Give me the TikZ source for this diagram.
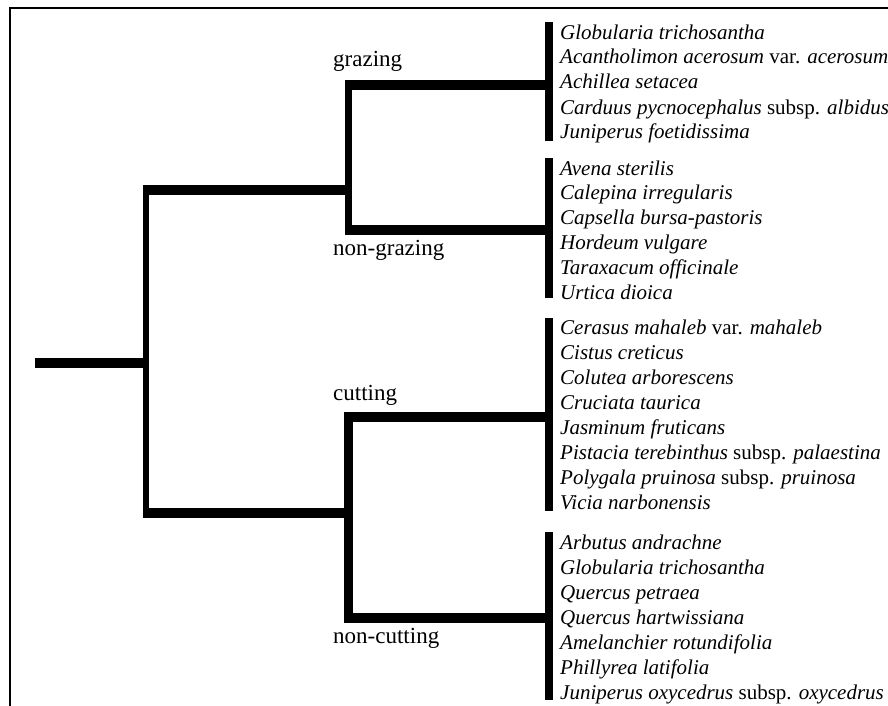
\documentclass[tikz,border=0pt]{standalone}
\usepackage{fontspec}
\setmainfont{Liberation Serif}
\begin{document}
\begin{tikzpicture}[x=1pt,y=-1pt,
  hbar/.style={line width=10pt,line cap=butt},
  vbar/.style={line width=7.5pt,line cap=butt},
  leafbar/.style={line width=8.3pt,line cap=butt},
  sp/.style={anchor=base west,inner sep=0pt,font=\fontsize{21}{24}\selectfont\itshape},
  grp/.style={anchor=base west,inner sep=0pt,font=\fontsize{23}{26}\selectfont}]
\useasboundingbox (0,0) rectangle (888,706);
\fill[white] (0,0) rectangle (888,706);
% frame (left and top)
\draw[line width=2pt] (9.5,706) -- (9.5,8) -- (888,8);
% coordinates
\coordinate (root) at (35,363);
\coordinate (mtop) at (146,185);
\coordinate (mbot) at (146,518);
\coordinate (mroot) at (146,363);
\coordinate (u1) at (143,190);
\coordinate (u2) at (348,190);
\coordinate (l1) at (143,513);
\coordinate (l2) at (348,513);
\coordinate (gtop) at (348.5,80);
\coordinate (gbot) at (348.5,235);
\coordinate (g1) at (345,85);
\coordinate (g2) at (549,85);
\coordinate (n1) at (345,230);
\coordinate (n2) at (549,230);
\coordinate (ctop) at (348,412);
\coordinate (cbot) at (348,623);
\coordinate (c1) at (344,417);
\coordinate (c2) at (549,417);
\coordinate (d1) at (344,618);
\coordinate (d2) at (549,618);
\coordinate (b1t) at (549,22);  \coordinate (b1b) at (549,141);
\coordinate (b2t) at (549,158); \coordinate (b2b) at (549,298);
\coordinate (b3t) at (549,318); \coordinate (b3b) at (549,511);
\coordinate (b4t) at (549,532); \coordinate (b4b) at (549,700);
% tree
\draw[hbar] (root) -- (mroot);
\draw[line width=6.5pt] (mtop) -- (mbot);
\draw[hbar] (u1) -- (u2);
\draw[hbar] (l1) -- (l2);
\draw[vbar] (gtop) -- (gbot);
\draw[hbar] (g1) -- (g2);
\draw[hbar] (n1) -- (n2);
\draw[line width=9pt] (ctop) -- (cbot);
\draw[hbar] (c1) -- (c2);
\draw[hbar] (d1) -- (d2);
\draw[leafbar] (b1t) -- (b1b);
\draw[leafbar] (b2t) -- (b2b);
\draw[leafbar] (b3t) -- (b3b);
\draw[leafbar] (b4t) -- (b4b);
% group labels
\node[grp] (lg) at (333,67) {grazing};
\node[grp] (lng) at (333,255) {non-grazing};
\node[grp] (lc) at (333,400) {cutting};
\node[grp] (lnc) at (333,643) {non-cutting};
% species
\node[sp] (s1) at (560,40) {Globularia trichosantha};
\node[sp] (s2) at (560,64) {Acantholimon acerosum \upshape var. \itshape acerosum};
\node[sp] (s3) at (560,89) {Achillea setacea};
\node[sp] (s4) at (560,114) {Carduus pycnocephalus \upshape subsp. \itshape albidus};
\node[sp] (s5) at (560,139) {Juniperus foetidissima};
\node[sp] (s6) at (560,175) {Avena sterilis};
\node[sp] (s7) at (560,199) {Calepina irregularis};
\node[sp] (s8) at (560,224) {Capsella bursa-pastoris};
\node[sp] (s9) at (560,249) {Hordeum vulgare};
\node[sp] (s10) at (560,274) {Taraxacum officinale};
\node[sp] (s11) at (560,299) {Urtica dioica};
\node[sp] (s12) at (560,334) {Cerasus mahaleb \upshape var. \itshape mahaleb};
\node[sp] (s13) at (560,359) {Cistus creticus};
\node[sp] (s14) at (560,384) {Colutea arborescens};
\node[sp] (s15) at (560,409) {Cruciata taurica};
\node[sp] (s16) at (560,434) {Jasminum fruticans};
\node[sp] (s17) at (560,459) {Pistacia terebinthus \upshape subsp. \itshape palaestina};
\node[sp] (s18) at (560,484) {Polygala pruinosa \upshape subsp. \itshape pruinosa};
\node[sp] (s19) at (560,509) {Vicia narbonensis};
\node[sp] (s20) at (560,549) {Arbutus andrachne};
\node[sp] (s21) at (560,574) {Globularia trichosantha};
\node[sp] (s22) at (560,599) {Quercus petraea};
\node[sp] (s23) at (560,624) {Quercus hartwissiana};
\node[sp] (s24) at (560,649) {Amelanchier rotundifolia};
\node[sp] (s25) at (560,674) {Phillyrea latifolia};
\node[sp] (s26) at (560,699) {Juniperus oxycedrus \upshape subsp. \itshape oxycedrus};
\end{tikzpicture}
\end{document}
